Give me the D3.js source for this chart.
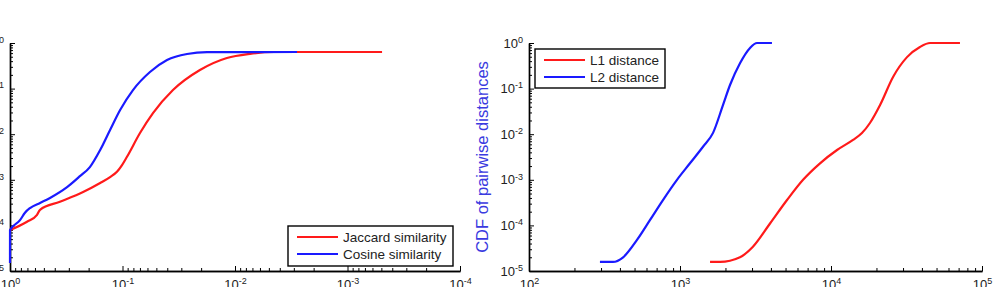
<!DOCTYPE html>
<html>
<head>
<meta charset="utf-8">
<script src="https://cdn.jsdelivr.net/npm/d3@7"></script>
<style>
  body { margin: 0; background: #fff; }
  svg { display: block; font-family: "Liberation Sans", Arial, sans-serif; }
</style>
</head>
<body>
<svg id="canvas"></svg>
<script>
// left panel: CDF vs similarity (x axis reversed)
const jaccardX = [1, 0.706, 0.575, 0.541, 0.36, 0.224, 0.158, 0.129, 0.112, 0.101, 0.0912, 0.0699, 0.0536, 0.0356, 0.0205, 0.0118, 0.00736, 0.0045, 0.000493]
const jaccardY = [7.9e-5, 1.2e-4, 1.7e-4, 2.2e-4, 3.3e-4, 5.4e-4, 8.5e-4, 1.15e-3, 1.5e-3, 2.1e-3, 3.2e-3, 0.0106, 0.029, 0.093, 0.256, 0.47, 0.58, 0.635, 0.635]
const cosineX = [1, 0.9995, 0.815, 0.736, 0.664, 0.541, 0.441, 0.311, 0.239, 0.195, 0.158, 0.129, 0.105, 0.0807, 0.057, 0.0402, 0.0267, 0.0177, 0.00281]
const cosineY = [1.5e-5, 7.9e-5, 1.3e-4, 1.9e-4, 2.4e-4, 3.1e-4, 4.0e-4, 6.9e-4, 1.2e-3, 1.9e-3, 4.5e-3, 0.0124, 0.034, 0.093, 0.231, 0.424, 0.574, 0.63, 0.635]

// right panel: CDF vs distance
const l1X = [1581, 1841, 2496, 3041, 3945, 5114, 6531, 8459, 10965, 13996, 16030, 18110, 21135, 25763, 31870, 38820, 45290, 71450]
const l1Y = [1.58e-5, 1.58e-5, 2.0e-5, 3.4e-5, 1.1e-4, 3.6e-4, 1.0e-3, 2.3e-3, 4.5e-3, 7.5e-3, 0.0106, 0.0176, 0.0437, 0.18, 0.49, 0.82, 1, 1]
const l2X = [295, 360, 420, 519, 632, 771, 955, 1164, 1420, 1655, 1928, 2144, 2496, 2909, 3236, 4064]
const l2Y = [1.58e-5, 1.58e-5, 2.0e-5, 4.8e-5, 1.3e-4, 3.6e-4, 1.0e-3, 2.3e-3, 5.3e-3, 0.0107, 0.044, 0.12, 0.36, 0.78, 1, 1]

const leftXDomain = [1, 1e-4]
const rightXDomain = [1e2, 1e5]
const yDomain = [1e-5, 1]
const leftLegend = ['Jaccard similarity', 'Cosine similarity']
const rightLegend = ['L1 distance', 'L2 distance']
const yLabel = 'CDF of pairwise distances'

const red = '#ff1a1a'
const blue = '#1a1aff'

const canvas = d3.select('#canvas').attr('width', 996).attr('height', 287)

const zip = (xs, ys) => xs.map((x, i) => [x, ys[i]])

const logTicks = (domain) => {
  const lo = Math.round(Math.log10(Math.min(...domain)))
  const hi = Math.round(Math.log10(Math.max(...domain)))
  const major = []
  const minor = []
  for (let e = lo; e <= hi; e++) {
    major.push(Math.pow(10, e))
    if (e < hi) for (let k = 2; k <= 9; k++) minor.push(k * Math.pow(10, e))
  }
  return { major, minor }
}

const supLabels = (sel) => {
  sel.selectAll('.tick text').each(function (d) {
    const e = Math.round(Math.log10(d))
    const t = d3.select(this).text('10')
    t.append('tspan').attr('dy', '-0.55em').attr('font-size', '9px').text(e)
  })
}

const drawPanel = (xDomain, xRange, series, legendNames, legendBox) => {
  const x = d3.scaleLog().domain(xDomain).range(xRange)
  const y = d3.scaleLog().domain(yDomain).range([271, 43])
  const xt = logTicks(xDomain)
  const yt = logTicks(yDomain)
  const g = canvas.append('g')

  // minor ticks
  g.append('g').attr('transform', 'translate(0,271)')
   .call(d3.axisBottom(x).tickValues(xt.minor).tickSize(-3).tickSizeOuter(0).tickFormat(''))
  g.append('g').attr('transform', `translate(${xRange[0]},0)`)
   .call(d3.axisLeft(y).tickValues(yt.minor).tickSize(-3).tickSizeOuter(0).tickFormat(''))

  // major ticks + labels
  const xa = g.append('g').attr('transform', 'translate(0,271)')
    .call(d3.axisBottom(x).tickValues(xt.major).tickSize(-5).tickSizeOuter(0).tickPadding(9))
  const ya = g.append('g').attr('transform', `translate(${xRange[0]},0)`)
    .call(d3.axisLeft(y).tickValues(yt.major).tickSize(-5).tickSizeOuter(0).tickPadding(9))
  supLabels(xa)
  supLabels(ya)
  ya.selectAll('.tick text').attr('x', -6)

  g.selectAll('.domain').attr('stroke', '#000').attr('stroke-width', 1.4)
  g.selectAll('.tick line').attr('stroke', '#000').attr('stroke-width', 1)
  g.selectAll('.tick text').attr('fill', '#222').attr('font-size', '13px')

  const line = d3.line()
    .x(d => x(d[0]))
    .y(d => y(d[1]))
    .curve(d3.curveMonotoneX)

  g.selectAll('path.series')
   .data(series)
   .enter()
   .append('path')
   .attr('class', 'series')
   .attr('d', s => line(s.points))
   .attr('fill', 'none')
   .attr('stroke', s => s.color)
   .attr('stroke-width', 2.2)

  // legend
  const lg = g.append('g').attr('transform', `translate(${legendBox.x},${legendBox.y})`)
  lg.append('rect')
    .attr('width', legendBox.w)
    .attr('height', legendBox.h)
    .attr('fill', '#fff')
    .attr('stroke', '#000')
    .attr('stroke-width', 1.4)
  legendNames.forEach((name, i) => {
    const cy = 11 + i * 17
    lg.append('line')
      .attr('x1', 9).attr('x2', 50)
      .attr('y1', cy).attr('y2', cy)
      .attr('stroke', series[i].color)
      .attr('stroke-width', 2.2)
    lg.append('text')
      .attr('x', 55).attr('y', cy)
      .attr('dy', '0.35em')
      .attr('font-size', '13.5px')
      .attr('fill', '#222')
      .text(name)
  })
}

drawPanel(leftXDomain, [10, 460],
  [{ color: red, points: zip(jaccardX, jaccardY) }, { color: blue, points: zip(cosineX, cosineY) }],
  leftLegend, { x: 288, y: 226, w: 165, h: 40 })

drawPanel(rightXDomain, [529, 982],
  [{ color: red, points: zip(l1X, l1Y) }, { color: blue, points: zip(l2X, l2Y) }],
  rightLegend, { x: 535, y: 49, w: 130, h: 39 })

canvas.append('text')
  .attr('transform', 'translate(488,157) rotate(-90)')
  .attr('text-anchor', 'middle')
  .attr('font-size', '16.5px')
  .attr('fill', '#3a3ae0')
  .text(yLabel)
</script>
</body>
</html>
